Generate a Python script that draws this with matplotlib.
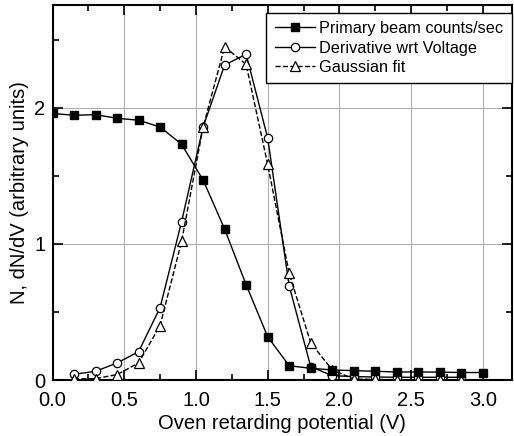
import matplotlib.pyplot as plt
from matplotlib.ticker import MultipleLocator

plt.rcParams['font.family'] = ['Liberation Sans', 'DejaVu Sans']

# oven retarding potential (V)
volts = [0.0, 0.15, 0.3, 0.45, 0.6, 0.75, 0.9, 1.05, 1.2, 1.35, 1.5,
         1.65, 1.8, 1.95, 2.1, 2.25, 2.4, 2.55, 2.7, 2.85, 3.0]
primary = [1.96, 1.946, 1.951, 1.924, 1.91, 1.86, 1.733, 1.47, 1.11, 0.70, 0.318,
           0.105, 0.086, 0.074, 0.069, 0.064, 0.059, 0.059, 0.058, 0.055, 0.055]

volts_d = [0.15, 0.3, 0.45, 0.6, 0.75, 0.9, 1.05, 1.2, 1.35, 1.5,
           1.65, 1.8, 1.95, 2.1, 2.25, 2.4, 2.55, 2.7, 2.85]
deriv = [0.042, 0.064, 0.125, 0.208, 0.532, 1.164, 1.86, 2.316, 2.395, 1.78,
         0.693, 0.098, 0.032, 0.025, 0.022, 0.02, 0.02, 0.02, 0.02]
gauss = [0.008, 0.01, 0.04, 0.125, 0.40, 1.02, 1.86, 2.45, 2.32, 1.586,
         0.784, 0.274, 0.074, 0.007, 0.004, 0.002, 0.001, 0.001, 0.001]

fig = plt.figure(figsize=(5.14, 4.36), dpi=100)
ax = fig.add_axes([52.5 / 514, 56 / 436, 459 / 514, 375 / 436])

ax.plot(volts_d, deriv, '-', color='black', lw=1.0, marker='o', ms=6,
        mfc='white', mec='black', mew=0.9, label='Derivative wrt Voltage', zorder=3)
ax.plot(volts_d, gauss, '--', color='black', lw=1.0, marker='^', ms=6.5,
        mfc='white', mec='black', mew=0.9, label='Gaussian fit', zorder=3)
ax.plot(volts, primary, '-', color='black', lw=1.0, marker='s', ms=5.5,
        mfc='black', mec='black', label='Primary beam counts/sec', zorder=4)

ax.set_xlim(0, 3.2)
ax.set_ylim(0, 2.757)
ax.xaxis.set_major_locator(MultipleLocator(0.5))
ax.xaxis.set_minor_locator(MultipleLocator(0.25))
ax.yaxis.set_major_locator(MultipleLocator(1))
ax.yaxis.set_minor_locator(MultipleLocator(0.5))
ax.xaxis.set_major_formatter(plt.FormatStrFormatter('%.1f'))
ax.tick_params(which='both', direction='in', top=True, right=True, labelsize=14.5, width=1.2)
ax.tick_params(axis='x', which='major', pad=8)
ax.tick_params(axis='y', which='major', pad=5)
ax.tick_params(which='major', length=7)
ax.tick_params(which='minor', length=4)
ax.grid(True, which='major', color='#b0b0b0', lw=0.8)
ax.set_axisbelow(True)
for s in ax.spines.values():
    s.set_linewidth(1.5)

ax.set_xlabel('Oven retarding potential (V)', fontsize=14.5, labelpad=3)
ax.set_ylabel('N, dN/dV (arbitrary units)', fontsize=14.5, labelpad=4)

h, l = ax.get_legend_handles_labels()
order = [2, 0, 1]
leg = ax.legend([h[i] for i in order], [l[i] for i in order], loc='upper right',
                bbox_to_anchor=(1.0, 0.979),
                fontsize=11.7, frameon=True, fancybox=False, edgecolor='black',
                framealpha=1, borderaxespad=0, handlelength=2.5, handletextpad=0.25,
                labelspacing=0.28, borderpad=0.5)
leg.get_frame().set_linewidth(1.0)

fig.savefig('out.png', dpi=100)
